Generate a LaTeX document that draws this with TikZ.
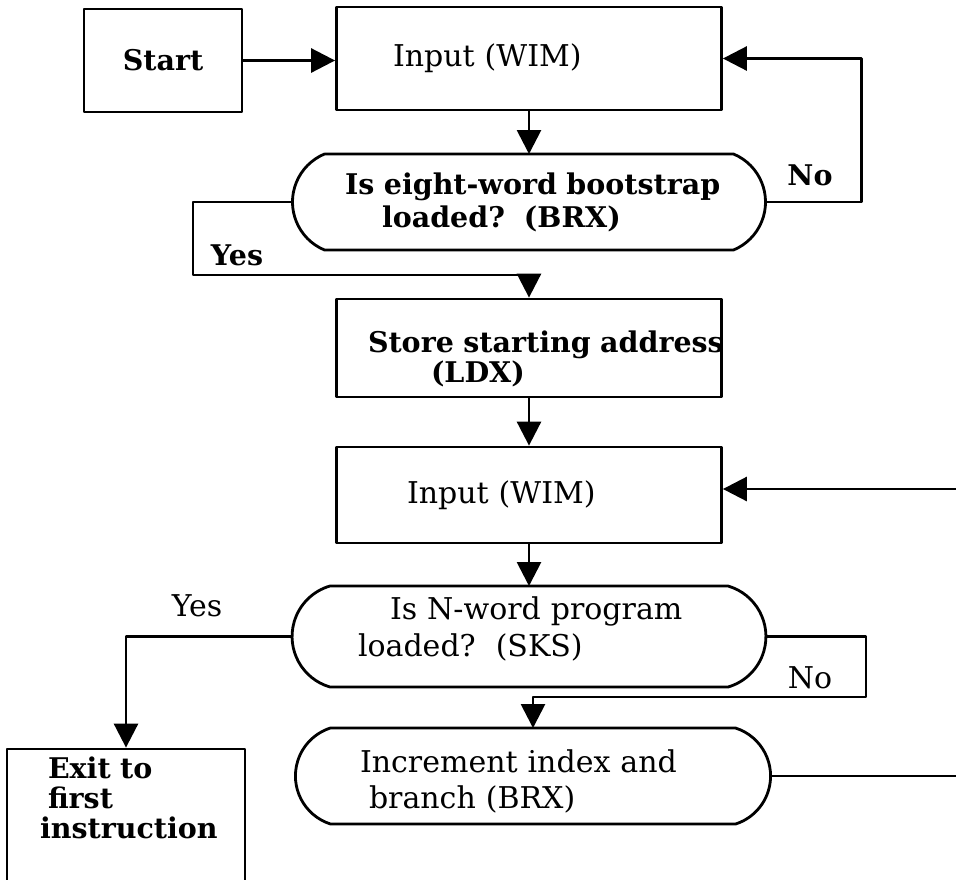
\documentclass[tikz,border=0pt]{standalone}
\usepackage{fontspec}
\setmainfont{DejaVu Serif}
\usetikzlibrary{arrows.meta,calc}
% #1 node, #2 bulge, #3 arc radius, #4 half angle
\newcommand{\drawstadium}[4]{%
  \draw ([xshift=#2pt]#1.north west) -- ([xshift=-#2pt]#1.north east)
    arc[start angle=#4,end angle=-#4,radius=#3pt]
    -- ([xshift=#2pt]#1.south west)
    arc[start angle=180+#4,end angle=180-#4,radius=#3pt] -- cycle;}
\begin{document}
\begin{tikzpicture}[x=1pt,y=-1pt,line width=2.8pt,line join=round,
  arr/.style={-{Triangle[length=24pt,width=24pt]}},
  box/.style={draw,rectangle,inner sep=0pt,line width=2.8pt},
  term/.style={rectangle,inner sep=0pt,outer sep=0pt},
  lt/.style={font=\fontsize{30}{33}\selectfont},
  bt/.style={font=\fontsize{28.5}{33}\selectfont\bfseries},
  lbl/.style={inner sep=0pt}
]
\fill[white] (0,0) rectangle (956,879);
\useasboundingbox (0,0) rectangle (956,879);

\node[box,bt,minimum width=158pt,minimum height=103pt] (start) at (163,60.5) {Start};
\node[box,lt,minimum width=385pt,minimum height=103pt,text width=272pt,align=left] (in1) at (529,58.5) {Input (WIM)};
\node[term,bt,minimum width=473pt,minimum height=96pt,text width=368pt,align=left] (dec1) at (529,202)
  {\mbox{Is eight-word bootstrap}\\\hspace*{37pt}loaded?\ \ (BRX)};
\node[box,minimum width=385pt,minimum height=98pt,text width=322pt,align=left,font=\fontsize{28.5}{30}\selectfont\bfseries] (store) at (529,348)
  {\rule{0pt}{44pt}\mbox{Store starting address}\\\hspace*{63pt}(LDX)};
\node[box,lt,minimum width=385pt,minimum height=96pt,text width=244pt,align=left] (in2) at (529,495) {Input (WIM)};
\node[term,minimum width=474pt,minimum height=101pt,text width=342pt,align=left,font=\fontsize{30}{37}\selectfont] (dec2) at (529,636.5)
  {\hspace*{32pt}Is N-word program\\loaded?\ \ (SKS)\rule[-19pt]{0pt}{1pt}};
\node[term,minimum width=475pt,minimum height=96pt,text width=346pt,align=left,font=\fontsize{30}{36}\selectfont] (dec3) at (533,776)
  {\rule{0pt}{33pt}Increment index and\\\hspace*{9pt}branch (BRX)};
\node[box,minimum width=238pt,minimum height=141pt,text width=172pt,align=left,font=\fontsize{28.5}{30}\selectfont\bfseries] (exit) at (126,819.5)
  {\hspace*{8pt}Exit to\\\hspace*{8pt}first\\instruction\\\rule[-14pt]{0pt}{1pt}};

\drawstadium{dec1}{32}{52}{67.4}
\drawstadium{dec2}{38}{52.6}{73.8}
\drawstadium{dec3}{35}{50.4}{72.3}

\node[lbl,bt] (yes1) at (237,255) {Yes};
\node[lbl,bt] (no1) at (810,175) {No};
\node[lbl,lt] (yes2) at (197,606) {Yes};
\node[lbl,lt] (no2) at (810,678) {No};

\coordinate (y1) at (193,275);
\coordinate (n2) at (866,697);
\coordinate (r1) at (956,489);
\coordinate (r2) at (956,773);

\draw[arr] (start.east) -- (start.east -| in1.west);
\draw[arr] (in1.south) -- (dec1.north);
\draw[arr] (dec1.east) -- ++(96,0) |- (in1.east);
\draw[arr] (dec1.west) -| (y1) -| (store.north);
\draw[arr] (store.south) -- (in2.north);
\draw[arr] (r1) -- (r1 -| in2.east);
\draw[arr] (in2.south) -- (dec2.north);
\draw[arr] (dec2.west) -| (exit.north);
\draw[arr] (dec2.east) -| (n2) -| (dec3.north);
\draw (dec3.east) -- (dec3.east -| r2);
\end{tikzpicture}
\end{document}
